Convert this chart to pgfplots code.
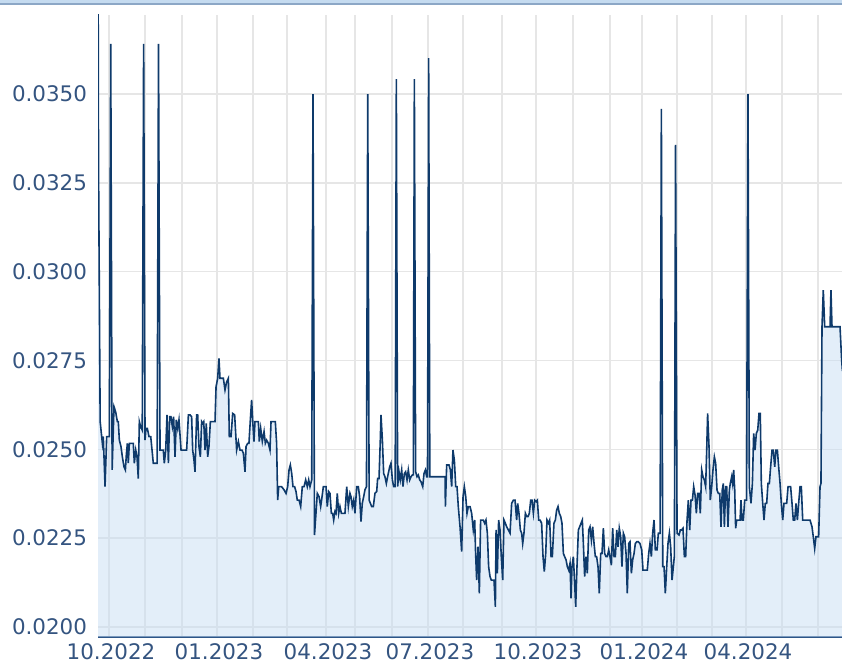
\documentclass[border=0pt]{standalone}
\usepackage{fontspec}
\setmainfont{DejaVu Sans}
\usepackage{pgfplots}
\usepackage{pgfplotstable}
\pgfplotsset{compat=1.18}
\definecolor{linecol}{RGB}{14,58,107}
\definecolor{fillcol}{RGB}{199,221,243}
\definecolor{gridcol}{RGB}{230,230,230}
\definecolor{labelcol}{RGB}{52,84,128}
\definecolor{axiscol}{RGB}{45,85,135}
\definecolor{topband}{RGB}{197,219,240}
\definecolor{topline}{RGB}{140,167,198}
\pgfplotstableread{
d v
-9.4 0.0385
-9.0 0.0330
-7.6 0.02578
-5.7 0.02517
-4.9 0.02536
-3.4 0.02395
-2.0 0.02536
0.3 0.02536
1.5 0.03641
2.7 0.02442
4.3 0.02620
5.7 0.02606
7.2 0.02578
8.0 0.02578
8.9 0.02526
10.3 0.02508
11.5 0.02479
12.9 0.02451
14.1 0.02442
14.9 0.02484
15.8 0.02517
16.6 0.02461
17.5 0.02517
19.5 0.02517
20.9 0.02517
21.8 0.02461
23.0 0.02498
24.1 0.02479
25.2 0.02418
26.1 0.02578
27.2 0.02564
28.6 0.02554
29.8 0.03641
31.0 0.02526
31.8 0.02559
33.0 0.02559
34.4 0.02536
35.9 0.02536
37.3 0.02489
38.1 0.02461
39.6 0.02461
41.4 0.02461
42.6 0.03641
43.9 0.02498
45.3 0.02498
46.7 0.02498
47.6 0.02461
48.8 0.02498
49.9 0.02597
51.1 0.02461
52.2 0.02592
53.3 0.02592
54.5 0.02564
55.6 0.02592
56.8 0.02479
57.9 0.02583
59.1 0.02559
60.2 0.02583
62.0 0.02498
64.0 0.02498
66.8 0.02498
68.3 0.02597
69.7 0.02597
71.1 0.02592
72.0 0.02498
73.1 0.02470
74.0 0.02437
75.4 0.02597
76.3 0.02597
77.4 0.02508
78.6 0.02479
79.7 0.02578
80.6 0.02573
81.5 0.02578
82.6 0.02498
83.7 0.02573
84.9 0.02479
86.0 0.02508
87.2 0.02578
89.8 0.02578
91.2 0.02578
92.1 0.02676
93.5 0.02700
94.6 0.02756
95.5 0.02700
97.5 0.02700
98.4 0.02700
99.8 0.02667
101.2 0.02690
102.7 0.02700
103.5 0.02536
105.0 0.02536
106.4 0.02601
108.1 0.02597
109.8 0.02498
111.3 0.02522
112.7 0.02498
114.4 0.02498
115.6 0.02489
117.0 0.02437
117.9 0.02508
119.3 0.02517
120.4 0.02517
121.6 0.02583
122.7 0.02639
123.6 0.02583
124.7 0.02522
125.6 0.02578
127.0 0.02578
128.5 0.02578
129.3 0.02522
130.5 0.02559
131.9 0.02522
133.4 0.02550
134.5 0.02517
135.6 0.02526
137.1 0.02517
138.5 0.02498
139.4 0.02578
141.4 0.02578
143.1 0.02578
144.2 0.02517
145.1 0.02357
146.0 0.02395
148.5 0.02395
150.6 0.02386
152.3 0.02376
153.7 0.02395
154.9 0.02442
156.0 0.02456
157.2 0.02432
158.3 0.02395
159.7 0.02395
160.9 0.02381
162.0 0.02357
163.5 0.02357
164.9 0.02339
166.3 0.02395
167.8 0.02395
169.2 0.02414
170.6 0.02395
171.8 0.02414
172.9 0.02395
174.4 0.02414
175.5 0.03500
176.8 0.02259
179.2 0.02376
180.7 0.02367
182.1 0.02339
183.3 0.02367
184.4 0.02395
185.8 0.02395
186.7 0.02395
187.8 0.02339
189.0 0.02381
190.1 0.02376
191.3 0.02320
192.4 0.02320
193.3 0.02301
194.4 0.02325
195.3 0.02320
196.4 0.02376
197.6 0.02320
198.7 0.02339
199.9 0.02320
201.6 0.02320
203.0 0.02320
204.5 0.02395
205.9 0.02339
207.3 0.02376
208.2 0.02367
209.3 0.02339
210.5 0.02357
211.6 0.02320
213.1 0.02395
214.5 0.02395
215.6 0.02367
216.8 0.02297
217.9 0.02348
219.1 0.02367
220.2 0.02386
221.5 0.02395
222.6 0.03500
223.8 0.02357
226.0 0.02339
227.4 0.02339
228.8 0.02376
230.3 0.02381
231.1 0.02418
232.3 0.02418
233.4 0.02526
234.0 0.02597
235.2 0.02526
236.3 0.02432
237.4 0.02423
238.6 0.02404
239.7 0.02423
241.5 0.02451
242.6 0.02461
243.8 0.02414
244.9 0.02395
246.2 0.02395
247.2 0.03542
248.3 0.02395
249.5 0.02437
250.6 0.02414
251.8 0.02442
252.9 0.02395
254.1 0.02432
255.2 0.02437
256.4 0.02414
257.5 0.02442
258.7 0.02414
259.8 0.02423
261.0 0.02428
261.8 0.02428
262.7 0.03542
263.8 0.02437
265.0 0.02423
266.1 0.02428
267.3 0.02414
268.4 0.02409
269.9 0.02395
271.0 0.02432
272.2 0.02442
273.3 0.02423
274.0 0.02423
275.0 0.03601
276.0 0.02423
289.1 0.02423
289.4 0.02339
290.5 0.02456
292.5 0.02456
293.7 0.02442
294.8 0.02395
295.9 0.02498
297.1 0.02470
298.3 0.02395
299.4 0.02395
300.5 0.02339
302.0 0.02282
303.4 0.02212
304.6 0.02367
305.7 0.02395
306.9 0.02367
308.0 0.02320
309.1 0.02339
310.6 0.02339
312.0 0.02320
313.4 0.02273
314.6 0.02301
315.4 0.02207
316.3 0.02132
317.5 0.02226
318.6 0.02095
319.7 0.02301
320.9 0.02301
322.0 0.02301
323.2 0.02292
324.3 0.02301
325.5 0.02264
326.6 0.02170
327.8 0.02142
328.9 0.02132
331.2 0.02132
332.4 0.02057
333.0 0.02273
334.1 0.02151
335.2 0.02301
336.4 0.02273
337.5 0.02198
338.7 0.02132
339.8 0.02301
341.0 0.02292
342.1 0.02282
343.6 0.02273
345.0 0.02264
346.4 0.02348
347.9 0.02357
349.3 0.02357
350.7 0.02301
351.6 0.02348
352.7 0.02320
353.9 0.02273
355.0 0.02264
355.9 0.02235
357.0 0.02264
358.2 0.02320
359.3 0.02311
360.5 0.02311
361.6 0.02320
362.8 0.02357
363.9 0.02357
365.1 0.02320
366.2 0.02357
367.4 0.02353
368.5 0.02357
369.7 0.02301
370.8 0.02301
372.2 0.02292
373.4 0.02198
374.5 0.02156
375.7 0.02207
376.8 0.02301
378.0 0.02292
379.1 0.02301
380.3 0.02198
381.4 0.02198
382.8 0.02292
384.0 0.02301
385.1 0.02329
386.3 0.02339
387.4 0.02320
388.6 0.02311
389.7 0.02292
390.9 0.02207
392.0 0.02198
393.2 0.02189
394.3 0.02170
395.5 0.02160
396.6 0.02179
397.5 0.02081
398.3 0.02170
399.5 0.02198
400.6 0.02123
401.5 0.02057
402.6 0.02170
403.8 0.02273
404.9 0.02282
406.1 0.02292
407.2 0.02301
408.1 0.02235
409.2 0.02142
410.4 0.02198
411.5 0.02151
412.7 0.02273
413.8 0.02282
415.0 0.02245
416.1 0.02282
417.3 0.02235
418.4 0.02198
419.5 0.02198
420.7 0.02170
421.8 0.02095
423.0 0.02207
424.1 0.02207
425.3 0.02278
426.4 0.02207
427.6 0.02198
428.7 0.02198
429.9 0.02217
431.0 0.02198
432.2 0.02174
433.3 0.02278
434.5 0.02198
435.6 0.02198
436.8 0.02273
437.9 0.02226
439.0 0.02278
440.2 0.02254
441.3 0.02170
442.5 0.02264
443.6 0.02254
444.8 0.02207
445.9 0.02095
447.1 0.02235
448.2 0.02240
449.4 0.02151
450.5 0.02189
451.7 0.02207
452.8 0.02235
454.0 0.02240
455.4 0.02240
456.8 0.02235
458.3 0.02217
459.4 0.02160
463.1 0.02160
464.3 0.02207
465.4 0.02235
466.6 0.02198
467.7 0.02264
468.9 0.02301
470.0 0.02217
471.5 0.02217
472.6 0.02264
474.1 0.02264
475.2 0.03458
476.4 0.02170
477.5 0.02170
478.6 0.02095
479.8 0.02170
480.9 0.02235
482.1 0.02264
483.2 0.02226
484.4 0.02132
485.5 0.02170
486.4 0.02200
487.4 0.03357
488.7 0.02264
490.4 0.02259
491.5 0.02273
492.7 0.02273
493.8 0.02278
495.0 0.02198
496.1 0.02198
497.3 0.02301
498.4 0.02357
499.6 0.02273
500.7 0.02357
501.9 0.02357
503.0 0.02395
504.2 0.02371
505.3 0.02320
506.4 0.02376
507.6 0.02376
508.7 0.02320
509.9 0.02442
511.0 0.02423
512.2 0.02414
513.3 0.02395
514.2 0.02498
515.0 0.02601
516.2 0.02507
517.3 0.02357
518.5 0.02395
519.6 0.02442
520.8 0.02479
521.9 0.02461
523.1 0.02385
524.2 0.02376
525.4 0.02376
526.5 0.02282
527.6 0.02386
528.5 0.02404
529.4 0.02282
530.5 0.02395
531.4 0.02395
532.5 0.02282
533.7 0.02386
534.5 0.02404
535.7 0.02423
536.5 0.02404
537.4 0.02442
538.3 0.02386
539.1 0.02278
540.0 0.02301
542.9 0.02301
543.7 0.02357
544.6 0.02301
545.7 0.02301
546.9 0.02357
548.5 0.02357
549.7 0.03500
550.9 0.02395
552.3 0.02348
553.5 0.02404
554.6 0.02545
555.8 0.02498
556.9 0.02545
558.1 0.02554
559.2 0.02601
560.3 0.02601
561.2 0.02404
562.4 0.02348
563.5 0.02301
564.6 0.02348
565.8 0.02348
566.9 0.02404
568.1 0.02404
569.2 0.02451
570.4 0.02498
571.5 0.02498
572.7 0.02451
573.8 0.02498
575.0 0.02498
576.1 0.02451
577.3 0.02404
578.4 0.02348
579.6 0.02301
580.7 0.02348
583.0 0.02348
584.2 0.02395
586.4 0.02395
587.6 0.02348
588.7 0.02301
589.9 0.02301
591.0 0.02348
592.2 0.02301
593.3 0.02348
594.5 0.02395
595.6 0.02395
596.8 0.02301
603.1 0.02301
604.8 0.02282
605.9 0.02254
607.1 0.02221
608.2 0.02254
610.5 0.02254
611.7 0.02395
612.5 0.02404
613.4 0.02845
614.5 0.02948
615.7 0.02845
620.3 0.02845
621.1 0.02948
622.0 0.02845
628.9 0.02845
630.3 0.02751
631.0 0.02720
}\pricedata

\begin{document}
\begin{tikzpicture}
\useasboundingbox (0,0) rectangle (842bp,666bp);
\fill[topband] (0,662.7bp) rectangle (842bp,666bp);
\fill[topline] (0,661bp) rectangle (842bp,662.7bp);
\begin{axis}[
  at={(98bp,29bp)}, anchor=south west,
  scale only axis, width=744bp, height=622bp,
  xmin=-9.46, xmax=630.6, ymin=0.019719, ymax=0.037224,
  axis x line*=bottom, axis y line*=left,
  x axis line style={draw=axiscol, line width=2bp, -},
  y axis line style={draw=none},
  xtick={0,31.0,62.8,92.9,123.9,153.1,186.7,211.6,243.5,274.4,304.5,338.1,367.3,399.2,431.0,458.5,488.6,518.7,548.0,579.0,610.0},
  xticklabels={10.2022,,,01.2023,,,04.2023,,,07.2023,,,10.2023,,,01.2024,,,04.2024,,},
  ytick={0.02,0.0225,0.025,0.0275,0.03,0.0325,0.035},
  yticklabels={0.0200,0.0225,0.0250,0.0275,0.0300,0.0325,0.0350},
  major tick length=0pt,
  grid=major, major grid style={draw=gridcol, line width=1.4bp},
  tick label style={font=\fontsize{21.5}{25}\selectfont, text=labelcol},
  yticklabel style={xshift=-7.5bp},
  xticklabel style={xshift=2bp, yshift=-3bp},
]
\addplot[draw=none, fill=fillcol, fill opacity=0.5] table[x=d,y=v]{\pricedata} \closedcycle;
\addplot[linecol, line width=1.6bp, mark=none] table[x=d,y=v]{\pricedata};
\end{axis}
\end{tikzpicture}
\end{document}
